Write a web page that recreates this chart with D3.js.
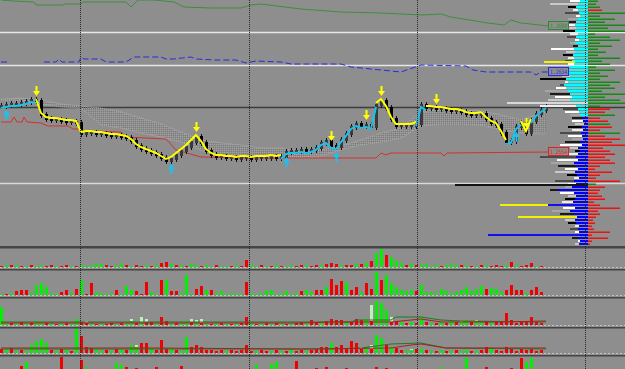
<!DOCTYPE html>
<html>
<head>
<meta charset="utf-8">
<title>Price chart</title>
<script src="https://d3js.org/d3.v7.min.js"></script>
<style>
  body { margin: 0; background: #8e8e8e; }
  svg { display: block; }
  .tag { font-family: "DejaVu Sans Mono", monospace; font-size: 6px; }
</style>
</head>
<body>
<svg id="chart" width="625" height="369"></svg>
<script>
// closing prices, one per bar
var closes = [
  1.2600,1.2601,1.2602,1.2602,1.2603,1.2604,1.2606,1.2605,1.2591,1.2587,
  1.2586,1.2586,1.2585,1.2584,1.2584,1.2583,1.2572,1.2573,1.2573,1.2572,
  1.2572,1.2571,1.2570,1.2570,1.2569,1.2568,1.2565,1.2560,1.2557,1.2555,
  1.2553,1.2551,1.2548,1.2545,1.2547,1.2551,1.2555,1.2559,1.2564,1.2569,
  1.2563,1.2555,1.2551,1.2549,1.2549,1.2548,1.2548,1.2547,1.2548,1.2548,
  1.2547,1.2548,1.2548,1.2548,1.2549,1.2548,1.2549,1.2554,1.2555,1.2555,
  1.2556,1.2555,1.2556,1.2558,1.2563,1.2565,1.2560,1.2559,1.2566,1.2572,
  1.2579,1.2582,1.2580,1.2581,1.2579,1.2601,1.2605,1.2598,1.2587,1.2580,
  1.2580,1.2580,1.2580,1.2582,1.2601,1.2598,1.2598,1.2597,1.2597,1.2596,
  1.2595,1.2595,1.2594,1.2592,1.2591,1.2591,1.2592,1.2587,1.2583,1.2581,
  1.2573,1.2564,1.2565,1.2579,1.2583,1.2573,1.2585,1.2592,1.2596,1.2600
];

// trend segments [from bar, to bar, direction]
var trend = [[0,7,"up"],[7,56,"dn"],[56,75,"up"],[75,83,"dn"],[83,85,"up"],
             [85,101,"dn"],[101,104,"up"],[104,106,"dn"],[106,109,"up"]];
var arrowsUp = [1,34,57,67,103];
var arrowsDown = [7,39,66,73,76,87,105];

// indicator lines [bar, price]
var greenLine = [[0,1.2706],[2.4,1.2705],[6.6,1.2704],[7,1.2701],[12.4,1.2701],[12.8,1.2702],
  [16,1.2702],[16.4,1.2704],[25,1.2704],[26,1.2699],[27.4,1.2706],[30.6,1.2706],[34.6,1.2704],
  [36.6,1.2699],[42,1.2698],[48,1.2698],[50,1.2701],[52,1.2702],[60,1.2697],[68,1.2694],
  [76,1.2693],[84,1.2691],[88,1.2692],[90,1.2689],[97.4,1.2683],[100.6,1.2681],[102,1.2686],
  [104,1.2683],[109.6,1.2680]];
var blueLine = [[0,1.2644],[1.2,1.2644],[4,null],[8.6,1.2644],[11,1.2644],[11.6,1.2647],
  [12.2,1.2644],[15.6,1.2644],[16,1.2649],[16.6,1.2647],[20,1.2647],[21,1.2644],[25,1.2644],
  [26.6,1.2649],[32,1.2649],[33,1.2647],[34.4,1.2647],[38,1.2649],[39,1.2647],[43,1.2646],
  [47,1.2646],[49,1.2643],[51,1.2645],[56,1.2644],[58,1.2642],[68,1.2642],[70,1.2639],
  [80,1.2634],[83.4,1.2640],[84,1.2641],[93,1.2640],[94.4,1.2636],[97,1.2634],[106,1.2634],
  [107,1.2631],[108,1.2634],[109.6,1.2634]];
var redLine = [[0,1.2584],[2,1.2584],[2.6,1.2589],[3.2,1.2584],[4.2,1.2584],[4.6,1.2589],
  [5.2,1.2584],[8,1.2583],[9.4,1.2580],[13.4,1.2580],[14.4,1.2577],[15.6,1.2577],[16.4,1.2575],
  [24,1.2574],[25,1.2569],[33,1.2567],[35,1.2556],[40,1.2549],[48,1.2548],[75,1.2548],
  [76,1.2553],[77,1.2551],[78,1.2553],[88,1.2553],[88.6,1.2550],[89.2,1.2553],[109.6,1.2554]];

// cloud spans
var spanBars = [0,4,8,12,16,20,24,28,32,36,40,44,48,52,56,60,64,68,72,76,80,84,88,92,96,100,104,108,109];
var spanA = [1.2607,1.2608,1.2606,1.2602,1.2600,1.2598,1.2594,1.2588,1.2582,1.2574,1.2566,1.2563,
  1.2561,1.2558,1.2558,1.2554,1.2556,1.2560,1.2566,1.2573,1.2578,1.2594,1.2597,1.2596,1.2595,
  1.2591,1.2586,1.2593,1.2596];
var spanB = [1.2606,1.2606,1.2602,1.2599,1.2598,1.2581,1.2578,1.2573,1.2569,1.2564,1.2556,1.2550,
  1.2548,1.2548,1.2549,1.2549,1.2550,1.2556,1.2561,1.2564,1.2568,1.2580,1.2582,1.2582,1.2581,
  1.2576,1.2573,1.2572,1.2572];

// horizontal levels and day separators
var levels = [1.2674, 1.2641, 1.2599, 1.2523];
var daySeps = [15.8, 49.6, 83.2, 116.8];

// volume profile rows, top price and step
var profTop = 1.2705, profStep = 0.0003;
var profLeft = [18,38,20,15,23,12,20,25,26,22,25,18,21,13,18,15,37,22,25,20,23,20,22,23,28,26,48,
  23,28,32,43,38,33,40,20,48,25,23,18,16,16,13,20,16,28,20,16,23,28,18,13,23,48,31,37,30,23,33,
  21,14,33,20,23,38,28,20,23,26,23,25,36,28,16,23,20,13,18,13,20,16,10,13];
var profInner = [8,10,12,10,9,8,10,12,13,12,13,10,12,9,13,10,14,13,15,14,16,14,18,20,20,18,22,20,
  24,22,20,18,16,18,14,12,10,9,8,6,5,4,6,5,7,6,5,8,6,10,8,10,12,10,14,12,10,13,11,9,14,12,16,30,
  14,12,13,15,12,13,18,14,11,13,12,9,10,9,12,10,8,9];
var profRight = [10,8,12,-14,37,12,27,17,37,20,37,7,22,32,12,24,10,18,10,32,14,22,8,27,12,20,12,
  32,22,27,14,37,17,32,37,12,-22,-17,27,-12,-20,22,-24,-12,32,-17,-32,-24,-37,-15,-22,-27,-17,
  -22,-27,-12,-7,-24,-12,-8,-32,8,-17,-12,-10,-14,-17,-6,-12,-32,-10,-12,-8,-5,-7,-4,-6,-22,-4,
  -20,-4,-2];
// [price, far end, near end, kind]
var profLines = [[1.2644,44,13,"y"],[1.2603,81,0,"w"],[1.2521,133,0,"k"],[1.2501,88,40,"y"],
  [1.2501,40,0,"b"],[1.2489,70,11,"y"],[1.2471,100,8,"b"]];

// volumes per bar (sign = up / down)
var vol1 = [-1,2,-2,2,-1,1,-2,1,2,-1,-2,1,-1,-2,1,-1,2,1,2,3,3,-2,-1,2,3,-2,1,-2,-1,2,
  -1,2,-4,-5,3,-2,2,-1,3,2,-1,2,1,-2,1,1,-1,2,-1,-7,2,1,-2,1,-1,2,-1,1,2,-1,
  -2,2,-1,-2,2,-3,-4,-3,2,-2,-2,3,-3,4,-6,14,18,-12,10,6,4,-2,3,-2,2,3,1,2,-1,2,
  3,2,-2,2,-1,1,-2,2,-1,-2,-1,2,-5,2,-1,-2,-4,1,-1,0];
var vol2 = [1,-1,2,-4,-5,-5,2,10,12,8,2,1,-3,-5,2,-6,15,-1,-12,3,2,1,2,-5,1,9,5,-4,-1,-13,
  3,1,-15,15,-4,-4,2,20,1,-6,-9,5,-5,2,4,1,2,1,1,-13,2,1,2,4,5,1,2,4,1,2,
  -4,5,3,-5,-5,8,-16,-10,-14,13,-5,-8,3,-12,-6,23,-15,20,12,8,5,4,5,-4,10,3,3,2,6,4,
  2,3,5,8,4,6,9,-6,7,6,3,-5,-10,-5,-5,2,-5,-8,-3,0];
var vol3 = [18,3,-2,2,-3,2,-2,4,3,-2,2,-1,2,-2,1,6,-3,-2,2,-1,2,-1,-2,1,-2,2,4,-2,3,-3,
  -3,2,-8,-4,2,-2,2,4,-3,3,-2,2,-1,2,-2,1,-1,2,-2,-8,2,-1,2,-2,1,-2,2,-1,2,-2,
  -3,2,-5,-3,2,-4,-6,-5,-5,3,-3,-6,-5,6,-4,24,22,15,-3,-4,3,-2,3,-2,8,-3,2,-2,3,-2,
  4,-3,3,5,-3,4,3,-4,2,-3,-3,-12,-5,-2,-4,-3,-8,-3,-2,0];
var vol4 = [-4,3,-5,2,-3,2,8,12,14,10,-3,2,-4,3,-2,25,-17,-6,-5,3,2,-3,2,-4,3,-3,8,6,-10,-10,
  4,-3,-13,-4,5,-3,2,16,-6,-8,-6,-3,-3,-2,-3,2,-3,-2,-3,-8,-2,2,-3,-2,2,-3,2,-2,3,-2,
  -3,2,-3,-4,-6,-6,10,-6,-8,-5,-12,-10,-4,5,-4,18,15,-8,6,-5,-3,2,3,-4,4,-3,2,-2,3,-2,
  2,-3,2,3,-2,2,-3,-6,5,-3,-2,-6,-4,-2,-4,-3,-4,-2,-3,0];
// pale bars [bar, volume]
var pale3 = [[15,6],[17,4],[26,6],[28,8],[29,6],[38,6],[39,5],[40,6],[74,20],[78,8],[84,6],[92,4],[95,5]];
var pale4 = [[27,8],[29,6],[34,5],[72,6],[74,8],[77,5],[82,4]];
var vol5 = [[4,-9],[5,13],[12,-18],[16,-15],[17,8],[23,12],[24,10],[25,-8],[27,-7],[31,-8],[36,-9],
  [51,10],[54,11],[55,13],[59,-14],[63,-7],[65,-8],[69,-7],[75,-8],[77,-7],[88,8],[93,17],[97,-8],
  [102,-7],[104,-17],[105,13],[106,17]];
// average lines in panels 3 and 4 [bar, volume]
var avgUp3 = [[0,3],[70,3],[71,5],[78,5],[79,8],[84,8],[88,5],[92,4],[109,3]];
var avgDn3 = [[0,2],[60,2],[66,3],[78,3],[84,6],[88,3],[100,3],[109,4]];
var avgUp4 = [[0,4],[30,4],[66,4],[72,5],[78,9],[84,10],[89,5],[109,4]];
var avgDn4 = [[0,5],[30,5],[60,4],[78,5],[82,8],[84,9],[89,5],[100,5],[109,5]];

var svg = d3.select("#chart");
var W = 625, H = 369;

var x = d3.scaleLinear().domain([0, 110]).range([1, 551]);
var y = d3.scaleLinear().domain([1.2460, 1.2706]).range([246, 0]);

// hatch pattern for the cloud
var defs = svg.append("defs");
var pat = defs.append("pattern").attr("id", "hatch").attr("width", 2).attr("height", 2)
  .attr("patternUnits", "userSpaceOnUse");
pat.append("rect").attr("width", 1).attr("height", 1).attr("fill", "#a0a0a0");
pat.append("rect").attr("x", 1).attr("y", 1).attr("width", 1).attr("height", 1).attr("fill", "#7c7c7c");

svg.append("rect").attr("width", W).attr("height", H).attr("fill", "#8e8e8e");

// horizontal levels
var levelColors = ["#e6e6e6", "#e6e6e6", "#3c3c3c", "#d8d8d8"];
svg.selectAll(".lvl").data(levels).enter().append("line")
  .attr("x1", 0).attr("x2", W)
  .attr("y1", function(d) { return Math.round(y(d)) + 0.5; })
  .attr("y2", function(d) { return Math.round(y(d)) + 0.5; })
  .attr("stroke", function(d, i) { return levelColors[i]; })
  .attr("stroke-width", 1.5);

// cloud
var cloudData = spanBars.map(function(b, i) { return [b, spanA[i], spanB[i]]; });
svg.append("path").datum(cloudData)
  .attr("d", d3.area().x(function(d) { return x(d[0]); })
    .y0(function(d) { return y(d[2]); }).y1(function(d) { return y(d[1]); }))
  .attr("fill", "url(#hatch)");
[spanA, spanB].forEach(function(s) {
  svg.append("path").datum(spanBars.map(function(b, i) { return [b, s[i]]; }))
    .attr("d", d3.line().x(function(d) { return x(d[0]); }).y(function(d) { return y(d[1]); }))
    .attr("fill", "none").attr("stroke", "#b0b0b0").attr("stroke-width", 1)
    .attr("stroke-dasharray", "1,1");
});

// indicator lines
var lineGen = d3.line()
  .defined(function(d) { return d[1] != null; })
  .x(function(d) { return x(d[0]); })
  .y(function(d) { return y(d[1]); });
svg.append("path").datum(greenLine).attr("d", lineGen)
  .attr("fill", "none").attr("stroke", "#3d8f3d").attr("stroke-width", 1);
svg.append("path").datum(blueLine).attr("d", lineGen)
  .attr("fill", "none").attr("stroke", "#2a2ae0").attr("stroke-width", 1)
  .attr("stroke-dasharray", "6,3");
svg.append("path").datum(redLine).attr("d", lineGen)
  .attr("fill", "none").attr("stroke", "#d43030").attr("stroke-width", 1);

// candles
var bars = closes.map(function(c, i) { return { i: i, o: i > 0 ? closes[i - 1] : c, c: c }; });
svg.selectAll(".wick").data(bars).enter().append("line")
  .attr("x1", function(d) { return x(d.i) + 0.5; })
  .attr("x2", function(d) { return x(d.i) + 0.5; })
  .attr("y1", function(d) { return y(Math.max(d.o, d.c)) - 3; })
  .attr("y2", function(d) { return y(Math.min(d.o, d.c)) + 3; })
  .attr("stroke", "#111").attr("stroke-width", 1);
svg.selectAll(".body").data(bars).enter().append("rect")
  .attr("x", function(d) { return x(d.i) - 1; })
  .attr("y", function(d) { return y(Math.max(d.o, d.c)) - 1; })
  .attr("width", 3)
  .attr("height", function(d) { return Math.abs(y(d.o) - y(d.c)) + 2; })
  .attr("fill", function(d) { return d.c >= d.o ? "#3a3a3a" : "#000"; });

// trend line, yellow when falling, cyan when rising
trend.forEach(function(t) {
  var pts = d3.range(t[0], t[1] + 1).map(function(i) { return [i, closes[i]]; });
  var off = t[2] === "dn" ? -2 : 2;
  svg.append("path").datum(pts)
    .attr("d", d3.line().x(function(d) { return x(d[0]); }).y(function(d) { return y(d[1]) + off; }))
    .attr("fill", "none")
    .attr("stroke", t[2] === "dn" ? "#ffff00" : "#19c3f0")
    .attr("stroke-width", 2);
});

// signal arrows
function arrow(i, dir) {
  var cx = x(i) + 0.5, cy = y(closes[i]);
  var g = svg.append("g").attr("fill", dir > 0 ? "#19c3f0" : "#ffff00");
  if (dir < 0) {
    g.append("rect").attr("x", cx - 1).attr("y", cy - 15).attr("width", 2).attr("height", 6);
    g.append("path").attr("d", "M" + (cx - 3.5) + "," + (cy - 10) + "L" + (cx + 3.5) + "," + (cy - 10) + "L" + cx + "," + (cy - 5) + "Z");
  } else {
    g.append("rect").attr("x", cx - 1).attr("y", cy + 9).attr("width", 2).attr("height", 6);
    g.append("path").attr("d", "M" + (cx - 3.5) + "," + (cy + 10) + "L" + (cx + 3.5) + "," + (cy + 10) + "L" + cx + "," + (cy + 5) + "Z");
  }
}
arrowsUp.forEach(function(i) { arrow(i, 1); });
arrowsDown.forEach(function(i) { arrow(i, -1); });

// volume profile
var pcx = 588;
var shades = ["#ffffff", "#c8c8c8", "#000000", "#ececec", "#4a4a4a", "#ffffff", "#a6a6a6", "#1a1a1a"];
profLeft.forEach(function(v, k) {
  var py = y(profTop - k * profStep) - 1;
  svg.append("rect").attr("x", pcx - v).attr("y", py).attr("width", v).attr("height", 2)
    .attr("fill", shades[k % shades.length]);
  var inner = profInner[k];
  svg.append("rect").attr("x", pcx - inner).attr("y", py).attr("width", inner).attr("height", 2)
    .attr("fill", profTop - k * profStep > 1.2590 ? "#00ffff" : "#0000ff");
  var r = profRight[k];
  svg.append("rect").attr("x", pcx).attr("y", py + 0.5).attr("width", Math.abs(r)).attr("height", 1.5)
    .attr("fill", r > 0 ? "#148a14" : "#f01010");
});
var lineKinds = { y: "#f2f200", w: "#d8d8d8", k: "#141414", b: "#1010f0" };
profLines.forEach(function(p) {
  svg.append("rect").attr("x", pcx - p[1]).attr("y", y(p[0]) - 1)
    .attr("width", p[1] - p[2]).attr("height", 2).attr("fill", lineKinds[p[3]]);
});

// right side price tags
var fmt = d3.format(".4f");
[[greenLine, "#2f8a2f"], [blueLine, "#2a2ae0"], [redLine, "#e02020"]].forEach(function(t) {
  var last = t[0][t[0].length - 1];
  var ty = Math.round(y(last[1]));
  svg.append("rect").attr("x", 548.5).attr("y", ty - 4.5).attr("width", 20).attr("height", 8)
    .attr("fill", "#8e8e8e").attr("stroke", t[1]).attr("stroke-width", 1);
  svg.append("text").attr("class", "tag").attr("x", 550).attr("y", ty + 2)
    .attr("textLength", 17).attr("lengthAdjust", "spacingAndGlyphs")
    .attr("fill", t[1]).text(fmt(last[1]));
});

// main window bottom edge
svg.append("rect").attr("x", 0).attr("y", 246).attr("width", W).attr("height", 2).attr("fill", "#444");

// volume panels
var panels = [
  { top: 249, base: 267, vals: vol1 },
  { top: 271, base: 295, vals: vol2 },
  { top: 299, base: 325, vals: vol3, pale: pale3, up: avgUp3, dn: avgDn3 },
  { top: 329, base: 353, vals: vol4, pale: pale4, up: avgUp4, dn: avgDn4 },
  { top: 357, base: 375, sparse: vol5 }
];
panels.forEach(function(p) {
  var v = d3.scaleLinear().domain([0, 25]).range([p.base, p.base - 25]);
  var g = svg.append("g");
  g.append("line").attr("x1", 0).attr("x2", W).attr("y1", p.base + 0.5).attr("y2", p.base + 0.5)
    .attr("stroke", "#c4c4c4").attr("stroke-dasharray", "2,2");
  if (p.pale) {
    g.selectAll(".pale").data(p.pale).enter().append("rect")
      .attr("x", function(d) { return x(d[0]) - 1; })
      .attr("y", function(d) { return v(d[1]); })
      .attr("width", 3)
      .attr("height", function(d) { return p.base - v(d[1]); })
      .attr("fill", "#bdf0bd");
  }
  var data = p.sparse ? p.sparse : p.vals.map(function(d, i) { return [i, d]; });
  g.selectAll(".vb").data(data).enter().append("rect")
    .attr("x", function(d) { return x(d[0]) - 1; })
    .attr("y", function(d) { return v(Math.abs(d[1])); })
    .attr("width", 3)
    .attr("height", function(d) { return p.base - v(Math.abs(d[1])); })
    .attr("fill", function(d) { return d[1] > 0 ? "#00f000" : "#f00000"; });
  if (p.up) {
    var lg = d3.line().x(function(d) { return x(d[0]); }).y(function(d) { return v(d[1]); });
    g.append("path").datum(p.up).attr("d", lg).attr("fill", "none").attr("stroke", "#1f7a1f");
    g.append("path").datum(p.dn).attr("d", lg).attr("fill", "none").attr("stroke", "#a82020");
  }
  // separator above the panel
  svg.append("rect").attr("x", 0).attr("y", p.top - 2).attr("width", W).attr("height", 1.5).attr("fill", "#454545");
});

// day separators
svg.selectAll(".sep").data(daySeps).enter().append("line")
  .attr("x1", function(d) { return Math.round(x(d)) + 0.5; })
  .attr("x2", function(d) { return Math.round(x(d)) + 0.5; })
  .attr("y1", 0).attr("y2", H)
  .attr("stroke", "#2a2a2a").attr("stroke-dasharray", "1,1");
</script>
</body>
</html>
